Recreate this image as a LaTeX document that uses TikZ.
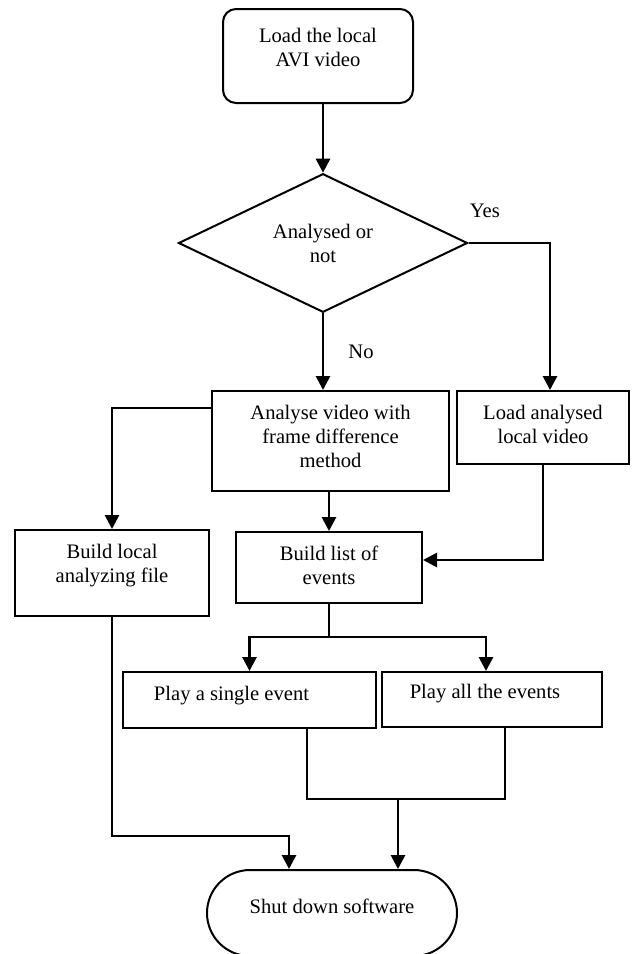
\documentclass[tikz,border=0pt]{standalone}
\usepackage{fontspec}
\setmainfont{Liberation Serif}
\usetikzlibrary{positioning, shapes.geometric, arrows.meta}
\tikzset{
  every node/.style={text=black, font=\fontsize{10.3}{12}\selectfont, align=center},
  every path/.style={line width=1.4pt},
  >={Triangle[length=7pt, width=7pt]},
  box/.style={rectangle, draw=black, line width=1pt, inner sep=0pt},
  choice/.style={diamond, draw=black, line width=1pt, inner sep=0pt},
  endbox/.style={rectangle, draw=black, line width=1pt, inner sep=0pt, rounded corners=21.5pt},
  lbl/.style={draw=none, fill=none, inner sep=1pt}
}

\begin{document}
\begin{tikzpicture}[x=0.5pt, y=-0.5pt]
  \useasboundingbox (0,0) rectangle (632,954);
  % Nodes
  \node (load) [box, rounded corners=6.5pt, minimum width=95pt, minimum height=47pt, text depth=8.5pt] at (318,56) {Load the local\\AVI video};
  \node (decision) [choice, minimum width=144.5pt, minimum height=63pt] at (323,243) {Analysed or\\not};
  \node (analyse) [box, minimum width=118.5pt, minimum height=50pt, text depth=5pt] at (330.5,441) {Analyse video with\\frame difference\\method};
  \node (loaded) [box, minimum width=86pt, minimum height=36.5pt, text depth=3pt] at (543,427.5) {Load analysed\\local video};
  \node (buildfile) [box, minimum width=97pt, minimum height=43pt, text depth=10pt] at (112,573) {Build local\\analyzing file};
  \node (buildlist) [box, minimum width=93pt, minimum height=35.5pt, text depth=2.5pt] at (329,567.5) {Build list of\\events};
  \node (single) [box, minimum width=126.5pt, minimum height=28pt, text depth=7pt] at (249.5,700) {Play a single event\hspace*{18pt}};
  \node (all) [box, minimum width=110pt, minimum height=27.5pt, text depth=8pt] at (492,699.5) {Play all the events\hspace*{7pt}};
  \node (shutdown) [endbox, minimum width=125pt, minimum height=43pt, text depth=7pt] at (332,913) {Shut down software};

  \coordinate (split) at (329,637);
  \coordinate (merge) at (398,799);
  \coordinate (elbow) at (112,836);

  \draw[->] (load.south -| decision.north) -- (decision.north);
  \draw[->] (decision.east) -| node[pos=0.1, above=11pt, lbl] {Yes} ([xshift=3.5pt]loaded.north);
  \draw[->] (decision.south) -- node[midway, right=11pt, lbl] {No} (decision.south |- analyse.north);
  \draw[->] ([yshift=-9pt]analyse.north west) -| (buildfile.north);
  \draw[->] (analyse.south -| buildlist.north) -- (buildlist.north);
  \draw[->] (loaded.south) |- ([yshift=3.75pt]buildlist.east);
  \draw (buildlist.south) -- (split);
  \draw[->] (split) -| (single.north);
  \draw[->] (split) -| ([xshift=-3pt]all.north);
  \draw ([xshift=28.75pt]single.south) |- (merge) -| ([xshift=6.5pt]all.south);
  \draw[->] (merge) -- (merge |- shutdown.north);
  \draw[->] (buildfile.south) -- (elbow) -| ([xshift=-21.5pt]shutdown.north);
\end{tikzpicture}
\end{document}
